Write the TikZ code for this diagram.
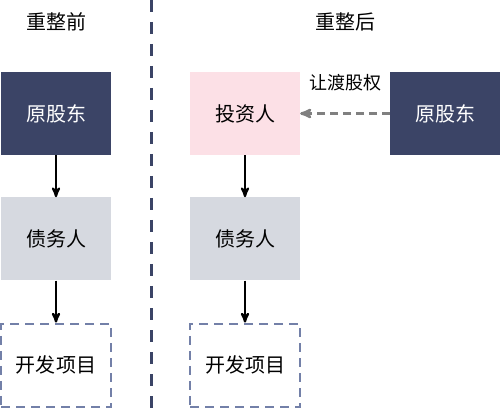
\documentclass[tikz,border=0pt]{standalone}
\usepackage{fontspec}
\setmainfont{Noto Sans CJK SC}
\usetikzlibrary{arrows,positioning}

\definecolor{navy}{HTML}{3B4466}
\definecolor{rose}{HTML}{FCE0E6}
\definecolor{mist}{HTML}{D6D9E0}
\definecolor{edgeblue}{HTML}{7380A8}

\tikzset{
  box/.style={rectangle,minimum width=110pt,minimum height=83pt,inner sep=0pt,
    font=\fontsize{20}{24}\selectfont},
  owner/.style={box,fill=navy,text=white},
  investor/.style={box,fill=rose},
  debtor/.style={box,fill=mist},
  project/.style={box,draw=edgeblue,line width=2.4pt,dash pattern=on 9pt off 6pt},
  title/.style={font=\fontsize{20}{24}\selectfont}
}

\begin{document}
\begin{tikzpicture}[x=1pt,y=-1pt,>=stealth',node distance=42pt]
    \useasboundingbox (0,0) rectangle (500,419);

    % before
    \node[title]                 (T1) at (56,22) {重整前};
    \node[owner]                 (A)  at (56,113.5) {原股东};
    \node[debtor]                (B)  [below=42pt of A] {债务人};
    \node[project]               (C)  [below=42pt of B] {开发项目};

    % after
    \node[title]                 (T2) at (345,22) {重整后};
    \node[investor]              (D)  at (245,113.5) {投资人};
    \node[debtor]                (E)  [below=42pt of D] {债务人};
    \node[project]               (F)  [below=42pt of E] {开发项目};
    \node[owner]                 (G)  [right=90pt of D] {原股东};

    % divider
    \coordinate (top) at (151,0);
    \coordinate (bot) at (151,412);
    \draw[navy,line width=3pt,dash pattern=on 12pt off 10pt] (top) -- (bot);

    \draw[->,line width=2.2pt] (A) -- (B);
    \draw[->,line width=2.2pt] (B) -- (C);
    \draw[->,line width=2.2pt] (D) -- (E);
    \draw[->,line width=2.2pt] (E) -- (F);
    \draw[->,gray,line width=2.6pt,dash pattern=on 8pt off 5pt] (G) -- (D)
        node[midway,above=18pt,black,font=\fontsize{18}{22}\selectfont] (L) {让渡股权};

\end{tikzpicture}
\end{document}
